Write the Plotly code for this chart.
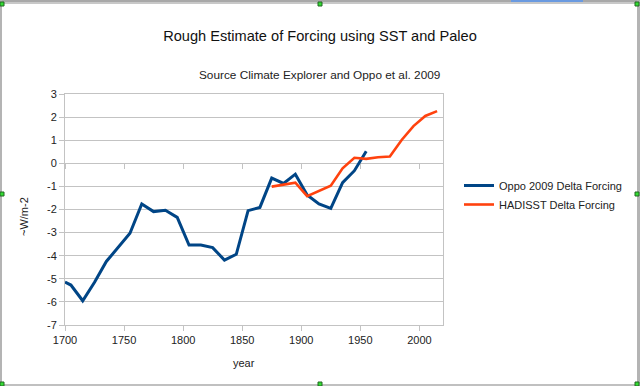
import plotly.graph_objects as go

W, H = 640, 386

oppo_years = [1700, 1705, 1715, 1725, 1735, 1745, 1755, 1765, 1775, 1785, 1795,
              1805, 1815, 1825, 1835, 1845, 1855, 1865, 1875, 1885, 1895,
              1905, 1915, 1925, 1935, 1945, 1955]
oppo_vals = [-5.14, -5.27, -5.95, -5.15, -4.25, -3.65, -3.03, -1.76, -2.09, -2.03, -2.34,
             -3.54, -3.54, -3.65, -4.19, -3.94, -2.05, -1.91, -0.64, -0.87, -0.47,
             -1.37, -1.76, -1.95, -0.84, -0.32, 0.52]

had_years = [1875, 1885, 1895, 1905, 1915, 1925, 1935, 1945, 1955, 1965, 1975,
             1985, 1995, 2005, 2015]
had_vals = [-1.01, -0.91, -0.84, -1.42, -1.20, -0.97, -0.22, 0.24, 0.19, 0.26, 0.29,
            1.01, 1.61, 2.05, 2.26]

x_ticks = [1700, 1750, 1800, 1850, 1900, 1950, 2000]
x_tick_labels = ["1700", "1750", "1800", "1850", "1900", "1950", "2000"]
y_ticks = [3, 2, 1, 0, -1, -2, -3, -4, -5, -6, -7]
y_tick_labels = ["3", "2", "1", "0", "-1", "-2", "-3", "-4", "-5", "-6", "-7"]

title_text = "Rough Estimate of Forcing using SST and Paleo"
subtitle_text = "Source Climate Explorer and Oppo et al. 2009"
x_title = "year"
y_title = "~W/m-2"
names = ["Oppo 2009 Delta Forcing", "HADISST Delta Forcing"]

FONT = "Liberation Sans, Arial, sans-serif"
GRID = "#c3c3c3"

def px(x):
    return x / W

def py(y):
    return 1 - y / H

fig = go.Figure()
fig.add_trace(go.Scatter(x=oppo_years, y=oppo_vals, mode="lines", name=names[0],
                         line=dict(color="#004586", width=3)))
fig.add_trace(go.Scatter(x=had_years, y=had_vals, mode="lines", name=names[1],
                         line=dict(color="#ff420e", width=2.6)))
# carrier for the tick marks drawn along the zero line
fig.add_trace(go.Scatter(x=[1700, 2020], y=[0, 0], xaxis="x2", yaxis="y", showlegend=False,
                         hoverinfo="skip", mode="lines", line=dict(width=0, color="rgba(0,0,0,0)")))

L, R, T, B = 65, 443, 94, 325

fig.update_layout(
    width=W, height=H,
    template="none",
    paper_bgcolor="white", plot_bgcolor="white",
    margin=dict(l=0, r=0, t=0, b=0, pad=0),
    font=dict(family=FONT, size=11, color="#222"),
    showlegend=True,
    legend=dict(x=px(459), y=py(171), xanchor="left", yanchor="top",
                font=dict(size=11, color="#222"), bgcolor="rgba(0,0,0,0)",
                tracegroupgap=0, itemwidth=30),
    title=dict(text=title_text, x=0.5, xanchor="center", y=py(36), yanchor="middle",
               xref="container", yref="container",
               font=dict(family=FONT, size=14.6, color="#111")),
    xaxis=dict(domain=[px(L), px(R)], range=[1700, 2020], tickvals=x_ticks,
               ticktext=x_tick_labels,
               showgrid=False, zeroline=False, showline=True, linecolor=GRID, linewidth=1,
               mirror=True, ticks="outside", ticklen=5, tickcolor=GRID, automargin=False,
               tickfont=dict(size=11, color="#222")),
    yaxis=dict(domain=[py(B), py(T)], range=[-7, 3], tickvals=y_ticks,
               ticktext=y_tick_labels,
               showgrid=True, gridcolor=GRID, gridwidth=1, zeroline=False,
               showline=True, linecolor=GRID, linewidth=1, mirror=True,
               ticks="outside", ticklen=5, tickcolor=GRID, automargin=False,
               tickfont=dict(size=11, color="#222")),
    xaxis2=dict(overlaying="x", anchor="free", side="bottom",
                domain=[px(L), px(R)], range=[1700, 2020],
                position=py(B) + (py(T) - py(B)) * 7 / 10,
                tickvals=x_ticks, showticklabels=False, showgrid=False, zeroline=False,
                showline=False, ticks="outside", ticklen=5, tickcolor=GRID,
                automargin=False),
)

annotations = [
    dict(text=subtitle_text, x=px(319), y=py(75), xref="paper", yref="paper",
         xanchor="center", yanchor="middle", showarrow=False,
         font=dict(family=FONT, size=11.8, color="#222")),
    dict(text=x_title, x=px(244), y=py(363), xref="paper", yref="paper",
         xanchor="center", yanchor="middle", showarrow=False,
         font=dict(family=FONT, size=11, color="#222")),
    dict(text=y_title, x=px(24), y=py(217), xref="paper", yref="paper",
         xanchor="center", yanchor="middle", showarrow=False, textangle=-90,
         font=dict(family=FONT, size=11, color="#222")),
]
fig.update_layout(annotations=annotations)

# selection frame from the original screenshot
shapes = []
def rect(x0, y0, x1, y1, fill, line=None):
    shapes.append(dict(type="rect", xref="paper", yref="paper",
                       x0=px(x0), x1=px(x1), y0=py(y1), y1=py(y0),
                       fillcolor=fill, line=dict(width=1 if line else 0, color=line or fill),
                       layer="above"))
rect(0, 0, 640, 2, "#a8a8a8")
rect(0, 2, 640, 4, "#c8c8c8")
rect(511, 0, 583, 2, "#6a9ae0")
rect(0, 0, 2, 386, "#b4b4b4")
rect(637, 0, 640, 386, "#b4b4b4")
rect(0, 384, 640, 386, "#c0c0c0")
for hx, hy in [(2, 4), (320, 4), (637, 4), (2, 194), (637, 194), (2, 384), (320, 384), (637, 384)]:
    rect(hx - 2, hy - 2, hx + 2, hy + 2, "#33dd33", "#226622")
fig.update_layout(shapes=shapes)

fig.write_html("out.html", config={"displayModeBar": False},
               post_script="document.body.style.margin='0';document.body.style.overflow='hidden';")
